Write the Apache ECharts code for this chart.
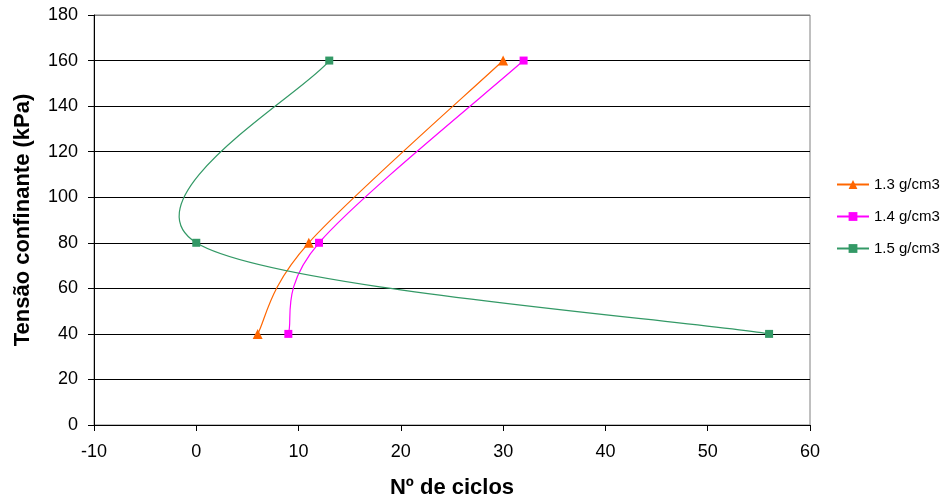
<!DOCTYPE html>
<html><head><meta charset="utf-8">
<script src="https://cdn.jsdelivr.net/npm/echarts@6/dist/echarts.min.js"></script>
<style>html,body{margin:0;padding:0;background:#fff}#c{width:949px;height:504px}</style>
</head><body><div id="c"></div>
<script>
var seriesNames = ['1.3 g/cm3', '1.4 g/cm3', '1.5 g/cm3'];
var tensao = [40, 80, 160];
var ciclos13 = [6, 11, 30];
var ciclos14 = [9, 12, 32];
var ciclos15 = [56, 0, 13];
var xTicks = { min: -10, max: 60, interval: 10 };
var yTicks = { min: 0, max: 180, interval: 20 };

function pts(xs) { return xs.map(function (x, i) { return [x, tensao[i]]; }); }

var colors = ['#FF6600', '#FF00FF', '#339966'];
var symbols = ['triangle', 'rect', 'rect'];
var sizes = [10, 8, 8];
var data = [ciclos13, ciclos14, ciclos15];
var K = 1 / 6;

function makeRender(points, color) {
  return function (params, api) {
    var i = params.dataIndex;
    var n = points.length;
    if (i >= n - 1) return null;
    var c = points.map(function (p) { return api.coord(p); });
    var p0 = c[i], p1 = c[i + 1];
    var prev = i > 0 ? c[i - 1] : p0;
    var next = i + 2 < n ? c[i + 2] : p1;
    return {
      type: 'bezierCurve',
      shape: {
        x1: p0[0], y1: p0[1], x2: p1[0], y2: p1[1],
        cpx1: p0[0] + (p1[0] - prev[0]) * K, cpy1: p0[1] + (p1[1] - prev[1]) * K,
        cpx2: p1[0] - (next[0] - p0[0]) * K, cpy2: p1[1] - (next[1] - p0[1]) * K
      },
      style: { stroke: color, fill: null, lineWidth: 1.2 },
      silent: true
    };
  };
}

var gridColors = [];
for (var g = 0; g < 10; g++) gridColors.push(g === 9 ? '#808080' : '#000');

var series = [];
data.forEach(function (d, i) {
  series.push({
    name: 'curve' + i, type: 'custom', coordinateSystem: 'cartesian2d',
    data: pts(d), renderItem: makeRender(pts(d), colors[i]), z: 2, clip: true
  });
});
data.forEach(function (d, i) {
  series.push({
    name: seriesNames[i], type: 'line', data: pts(d), smooth: false,
    symbol: symbols[i], symbolSize: sizes[i], showAllSymbol: true,
    lineStyle: { color: colors[i], width: 1, opacity: 0 },
    itemStyle: { color: colors[i] }, z: 3,
    emphasis: { disabled: true }
  });
});

var chart = echarts.init(document.getElementById('c'));
var font = 'Liberation Sans, Arial, sans-serif';
chart.setOption({
  animation: false,
  textStyle: { fontFamily: font },
  grid: { left: 94, right: 139, top: 15, bottom: 78, show: true, borderColor: '#808080', borderWidth: 1 },
  legend: {
    orient: 'vertical', left: 831, top: 172, itemWidth: 32, itemHeight: 11, itemGap: 17,
    textStyle: { fontSize: 15, color: '#000', fontFamily: font },
    data: seriesNames.map(function (n, i) {
      return { name: n, lineStyle: { color: colors[i], width: 2, opacity: 1 } };
    })
  },
  xAxis: {
    type: 'value', min: xTicks.min, max: xTicks.max, interval: xTicks.interval,
    name: 'Nº de ciclos', nameLocation: 'middle', nameGap: 52,
    nameTextStyle: { fontSize: 22, fontWeight: 'bold', color: '#000', fontFamily: font },
    axisLine: { show: true, onZero: false, lineStyle: { color: '#000' } },
    axisTick: { show: true, inside: false, length: 6, lineStyle: { color: '#000' } },
    axisLabel: { fontSize: 18, color: '#000', margin: 18, fontFamily: font },
    splitLine: { show: false }
  },
  yAxis: {
    type: 'value', min: yTicks.min, max: yTicks.max, interval: yTicks.interval,
    name: 'Tensão confinante (kPa)', nameLocation: 'middle', nameGap: 60,
    nameTextStyle: { fontSize: 22, fontWeight: 'bold', color: '#000', fontFamily: font },
    axisLine: { show: true, onZero: false, lineStyle: { color: '#000' } },
    axisTick: { show: true, inside: false, length: 6, lineStyle: { color: '#000' } },
    axisLabel: { fontSize: 18, color: '#000', margin: 16, fontFamily: font },
    splitLine: { show: true, lineStyle: { color: gridColors, width: 1 } }
  },
  series: series
});
</script></body></html>
